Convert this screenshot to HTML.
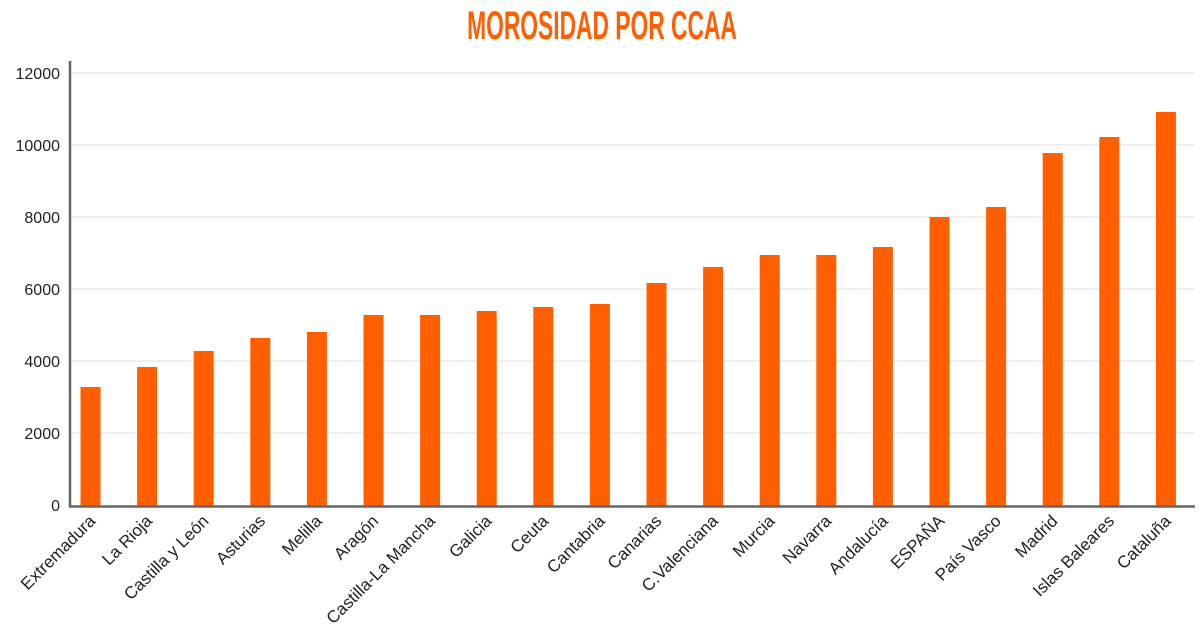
<!DOCTYPE html>
<html><head><meta charset="utf-8"><style>
body{margin:0;background:#fff;}
svg{display:block;font-family:"Liberation Sans",sans-serif;}
</style></head><body>
<svg width="1200" height="641" viewBox="0 0 1200 641">
<text x="602" y="39" text-anchor="middle" font-family="Liberation Sans Narrow, Liberation Sans, sans-serif" font-weight="bold" font-size="40" fill="#ff5f00" transform="translate(602,0) scale(0.57,1) translate(-602,0)">MOROSIDAD POR CCAA</text>
<g stroke="#efefef" stroke-width="2">
<line x1="71" x2="1195" y1="73" y2="73"/><line x1="71" x2="1195" y1="145" y2="145"/>
<line x1="71" x2="1195" y1="217" y2="217"/><line x1="71" x2="1195" y1="289" y2="289"/>
<line x1="71" x2="1195" y1="361" y2="361"/><line x1="71" x2="1195" y1="433" y2="433"/>
</g>
<g font-size="16" fill="#222" text-anchor="end">
<text x="60" y="79">12000</text><text x="60" y="151">10000</text><text x="60" y="223">8000</text>
<text x="60" y="295">6000</text><text x="60" y="367">4000</text><text x="60" y="439">2000</text><text x="60" y="511">0</text>
</g>
<g fill="#ff5f00" id="bars"></g>
<line x1="70" y1="61" x2="70" y2="507" stroke="#666" stroke-width="2.5"/>
<line x1="69" y1="506.5" x2="1195" y2="506.5" stroke="#666" stroke-width="2.5"/>
<g id="labels" font-size="17" fill="#222" text-anchor="end"></g>
</svg>
<script>
var names=["Extremadura","La Rioja","Castilla y León","Asturias","Melilla","Aragón","Castilla-La Mancha","Galicia","Ceuta","Cantabria","Canarias","C.Valenciana","Murcia","Navarra","Andalucía","ESPAÑA","País Vasco","Madrid","Islas Baleares","Cataluña"];
var tops=[387,367,351,338,332,315,315,311,307,304,283,267,255,255,247,217,207,153,137,112];
var b=document.getElementById("bars"),l=document.getElementById("labels"),ns="http://www.w3.org/2000/svg";
for(var i=0;i<20;i++){var cx=90.5+i*56.6;
var r=document.createElementNS(ns,"rect");r.setAttribute("x",cx-10);r.setAttribute("y",tops[i]);r.setAttribute("width",20);r.setAttribute("height",506-tops[i]);b.appendChild(r);
var t=document.createElementNS(ns,"text");t.setAttribute("transform","translate("+(cx+6)+",522) rotate(-45)");t.textContent=names[i];l.appendChild(t);}
</script>
</body></html>
